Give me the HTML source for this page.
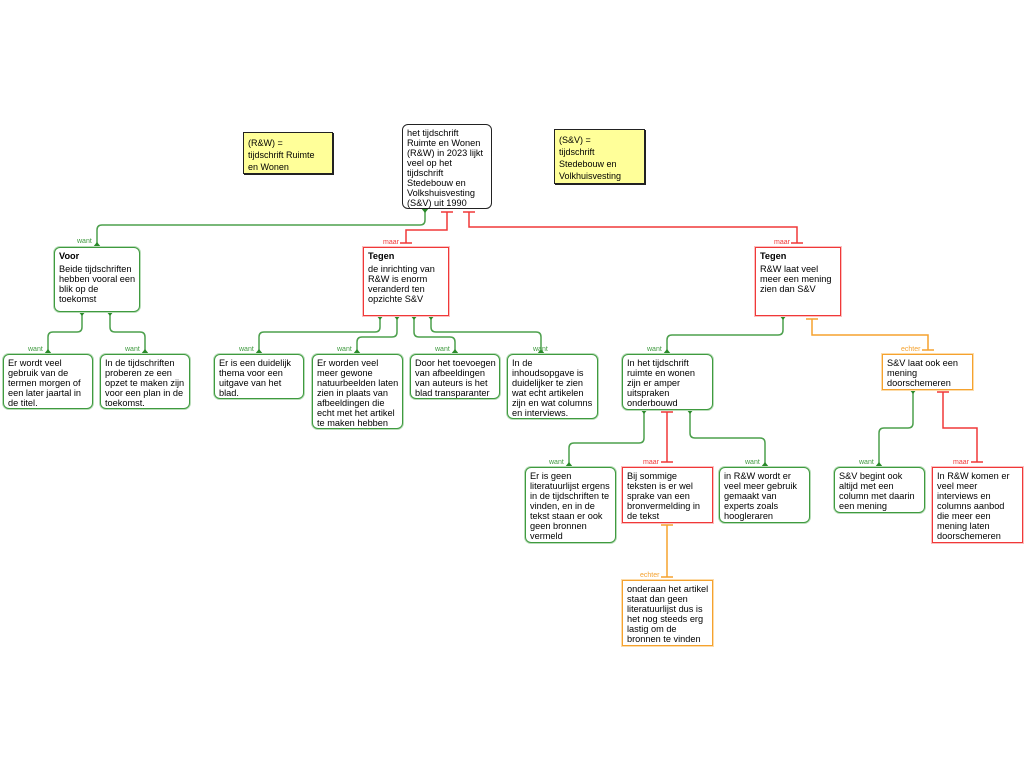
<!DOCTYPE html>
<html><head><meta charset="utf-8"><style>
body{margin:0;background:#fff;}
#c{position:relative;width:1024px;height:768px;overflow:hidden;font-family:"Liberation Sans",sans-serif;font-size:9.2px;line-height:10px;color:#000;}
.b{position:absolute;box-sizing:border-box;padding:3px 4px;background:#fff;white-space:nowrap;}
.g{border:1.5px solid #3f9a3f;border-radius:6px;box-shadow:0 0 0 1px #b8dcb8;}
.r{border:1.5px solid #f03838;box-shadow:0 0 0 1px #fbc0c0;}
.o{border:1.5px solid #f5a22e;box-shadow:0 0 0 1px #fddcaa;}
.k{border:1.5px solid #222;border-radius:6px;}
.n{position:absolute;box-sizing:border-box;background:#ffff99;border:1px solid #222;box-shadow:1px 1px 0 #222;padding:4px 4px;font-size:9px;line-height:12px;white-space:nowrap;}
.t{font-weight:bold;margin-bottom:3px;}
.l{position:absolute;font-size:7px;line-height:7px;}
svg{position:absolute;left:0;top:0;}
</style></head><body><div id="c">
<svg width="1024" height="768" fill="none" stroke-width="1.5">
<g stroke="#4da04d">
<path d="M425 208V220q0 5-5 5H102q-5 0-5 5V247"/>
<path d="M82 311V327q0 5-5 5H53q-5 0-5 5V354"/>
<path d="M110 311V327q0 5 5 5H140q5 0 5 5V354"/>
<path d="M380 315V327q0 5-5 5H264q-5 0-5 5V354"/>
<path d="M397 315V332q0 5-5 5H362q-5 0-5 5V354"/>
<path d="M414 315V332q0 5 5 5H450q5 0 5 5V354"/>
<path d="M431 315V327q0 5 5 5H536q5 0 5 5V354"/>
<path d="M783 315V330q0 5-5 5H672q-5 0-5 5V354"/>
<path d="M644 409V438q0 5-5 5H574q-5 0-5 5V467"/>
<path d="M690 409V433q0 5 5 5H760q5 0 5 5V467"/>
<path d="M913 389V423q0 5-5 5H884q-5 0-5 5V467"/>
</g>
<g fill="#2a8a2a">
<path d="M421 208h8l-4 5z"/><path d="M93 247h8l-4-5z"/>
<path d="M78 311h8l-4 5z"/><path d="M106 311h8l-4 5z"/>
<path d="M44 354h8l-4-5z"/><path d="M141 354h8l-4-5z"/>
<path d="M376 315h8l-4 5z"/><path d="M393 315h8l-4 5z"/><path d="M410 315h8l-4 5z"/><path d="M427 315h8l-4 5z"/>
<path d="M255 354h8l-4-5z"/><path d="M353 354h8l-4-5z"/><path d="M451 354h8l-4-5z"/><path d="M537 354h8l-4-5z"/>
<path d="M779 315h8l-4 5z"/><path d="M663 354h8l-4-5z"/>
<path d="M640 409h8l-4 5z"/><path d="M686 409h8l-4 5z"/>
<path d="M565 467h8l-4-5z"/><path d="M761 467h8l-4-5z"/>
<path d="M909 389h8l-4 5z"/><path d="M875 467h8l-4-5z"/>
</g>
<g stroke="#f03838">
<path d="M447 212V230H406V243"/>
<path d="M469 212V227H797V243"/>
<path d="M667 412V462"/>
<path d="M943 392V428H977V462"/>
<path d="M441 212h12M463 212h12M400 243h12M791 243h12M661 412h12M661 462h12M937 392h12M971 462h12"/>
</g>
<g stroke="#f5a22e">
<path d="M812 319V335H928V350"/>
<path d="M667 525V577"/>
<path d="M806 319h12M922 350h12M661 525h12M661 577h12"/>
</g>
</svg>

<div class="l" style="left:77px;top:238px;color:#3f9a3f">want</div>
<div class="l" style="left:383px;top:239px;color:#f03838">maar</div>
<div class="l" style="left:774px;top:239px;color:#f03838">maar</div>
<div class="l" style="left:28px;top:346px;color:#3f9a3f">want</div>
<div class="l" style="left:125px;top:346px;color:#3f9a3f">want</div>
<div class="l" style="left:239px;top:346px;color:#3f9a3f">want</div>
<div class="l" style="left:337px;top:346px;color:#3f9a3f">want</div>
<div class="l" style="left:435px;top:346px;color:#3f9a3f">want</div>
<div class="l" style="left:533px;top:346px;color:#3f9a3f">want</div>
<div class="l" style="left:647px;top:346px;color:#3f9a3f">want</div>
<div class="l" style="left:901px;top:346px;color:#f5a22e">echter</div>
<div class="l" style="left:549px;top:459px;color:#3f9a3f">want</div>
<div class="l" style="left:643px;top:459px;color:#f03838">maar</div>
<div class="l" style="left:745px;top:459px;color:#3f9a3f">want</div>
<div class="l" style="left:859px;top:459px;color:#3f9a3f">want</div>
<div class="l" style="left:953px;top:459px;color:#f03838">maar</div>
<div class="l" style="left:640px;top:572px;color:#f5a22e">echter</div>

<div class="n" style="left:243px;top:132px;width:90px;height:42px;">(R&amp;W) =<br>tijdschrift Ruimte<br>en Wonen</div>
<div class="n" style="left:554px;top:129px;width:91px;height:55px;">(S&amp;V) =<br>tijdschrift<br>Stedebouw en<br>Volkhuisvesting</div>

<div class="b k" style="left:402px;top:124px;width:90px;height:85px;">het tijdschrift<br>Ruimte en Wonen<br>(R&amp;W) in 2023 lijkt<br>veel op het<br>tijdschrift<br>Stedebouw en<br>Volkshuisvesting<br>(S&amp;V) uit 1990</div>
<div class="b g" style="left:54px;top:247px;width:86px;height:65px;"><div class="t">Voor</div>Beide tijdschriften<br>hebben vooral een<br>blik op de<br>toekomst</div>
<div class="b r" style="left:363px;top:247px;width:86px;height:69px;"><div class="t">Tegen</div>de inrichting van<br>R&amp;W is enorm<br>veranderd ten<br>opzichte S&amp;V</div>
<div class="b r" style="left:755px;top:247px;width:86px;height:69px;"><div class="t">Tegen</div>R&amp;W laat veel<br>meer een mening<br>zien dan S&amp;V</div>

<div class="b g" style="left:3px;top:354px;width:90px;height:55px;">Er wordt veel<br>gebruik van de<br>termen morgen of<br>een later jaartal in<br>de titel.</div>
<div class="b g" style="left:100px;top:354px;width:90px;height:55px;">In de tijdschriften<br>proberen ze een<br>opzet te maken zijn<br>voor een plan in de<br>toekomst.</div>
<div class="b g" style="left:214px;top:354px;width:90px;height:45px;">Er is een duidelijk<br>thema voor een<br>uitgave van het<br>blad.</div>
<div class="b g" style="left:312px;top:354px;width:91px;height:75px;">Er worden veel<br>meer gewone<br>natuurbeelden laten<br>zien in plaats van<br>afbeeldingen die<br>echt met het artikel<br>te maken hebben</div>
<div class="b g" style="left:410px;top:354px;width:90px;height:45px;">Door het toevoegen<br>van afbeeldingen<br>van auteurs is het<br>blad transparanter</div>
<div class="b g" style="left:507px;top:354px;width:91px;height:65px;">In de<br>inhoudsopgave is<br>duidelijker te zien<br>wat echt artikelen<br>zijn en wat columns<br>en interviews.</div>
<div class="b g" style="left:622px;top:354px;width:91px;height:56px;">In het tijdschrift<br>ruimte en wonen<br>zijn er amper<br>uitspraken<br>onderbouwd</div>
<div class="b o" style="left:882px;top:354px;width:91px;height:36px;">S&amp;V laat ook een<br>mening<br>doorschemeren</div>

<div class="b g" style="left:525px;top:467px;width:91px;height:76px;">Er is geen<br>literatuurlijst ergens<br>in de tijdschriften te<br>vinden, en in de<br>tekst staan er ook<br>geen bronnen<br>vermeld</div>
<div class="b r" style="left:622px;top:467px;width:91px;height:56px;">Bij sommige<br>teksten is er wel<br>sprake van een<br>bronvermelding in<br>de tekst</div>
<div class="b g" style="left:719px;top:467px;width:91px;height:56px;">in R&amp;W wordt er<br>veel meer gebruik<br>gemaakt van<br>experts zoals<br>hoogleraren</div>
<div class="b g" style="left:834px;top:467px;width:91px;height:46px;">S&amp;V begint ook<br>altijd met een<br>column met daarin<br>een mening</div>
<div class="b r" style="left:932px;top:467px;width:91px;height:76px;">In R&amp;W komen er<br>veel meer<br>interviews en<br>columns aanbod<br>die meer een<br>mening laten<br>doorschemeren</div>
<div class="b o" style="left:622px;top:580px;width:91px;height:66px;">onderaan het artikel<br>staat dan geen<br>literatuurlijst dus is<br>het nog steeds erg<br>lastig om de<br>bronnen te vinden</div>
</div></body></html>
